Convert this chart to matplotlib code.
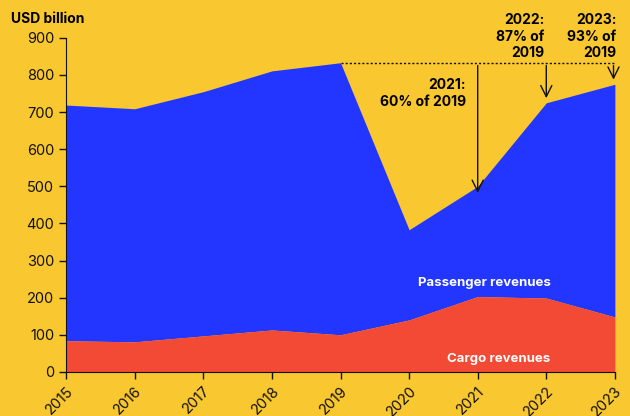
import matplotlib.pyplot as plt
import numpy as np

years = [2015, 2016, 2017, 2018, 2019, 2020, 2021, 2022, 2023]
total = [719, 709, 755, 811, 833, 383, 500, 725, 775]
cargo = [84, 81, 97, 113, 100, 140, 203, 199, 148]
notes = {2021: "2021:\n60% of 2019", 2022: "2022:\n87% of\n2019", 2023: "2023:\n93% of\n2019"}

bg = "#F9C72F"
blue = "#2236FF"
red = "#F24A35"

plt.rcParams['font.family'] = ['Inter', 'DejaVu Sans']

fig = plt.figure(figsize=(6.3, 4.16), dpi=100, facecolor=bg)
ax = fig.add_axes([0.105, 0.106, 0.871, 0.803])
ax.set_facecolor(bg)

ax.fill_between(years, cargo, total, color=blue, lw=0)
ax.fill_between(years, 0, cargo, color=red, lw=0)

ax.set_xlim(2015, 2023)
ax.set_ylim(0, 900)
ax.set_xticks(years)
ax.set_xticklabels([str(y) for y in years], rotation=45, ha='right', rotation_mode='anchor')
ax.set_yticks(np.arange(0, 901, 100))
ax.tick_params(labelsize=10.5, length=5, width=1, colors='#111111')
for s in ['top', 'right']:
    ax.spines[s].set_visible(False)
ax.spines['left'].set_color('#111111')
ax.spines['bottom'].set_color('#111111')

fig.text(0.018, 0.955, "USD billion", fontsize=10, fontweight='bold', ha='left', va='center')

base = total[4]
ax.plot([2019, 2023], [base, base], ls=(0, (1.5, 1.5)), color='#111111', lw=1)
for yr in notes:
    v = total[years.index(yr)]
    x = yr - 0.02 if yr == 2023 else yr
    ax.annotate("", xy=(x, v - 25 if yr == 2021 else v + 5), xytext=(x, base),
                arrowprops=dict(arrowstyle='->', color='#111111', lw=1, mutation_scale=20))
kw = dict(fontsize=10, fontweight='bold', ha='right', va='center', linespacing=1.25, clip_on=False)
ax.text(2020.83, 750, notes[2021], **kw)
ax.text(2021.97, 903, notes[2022], **kw)
ax.text(2023.02, 903, notes[2023], **kw)

ax.text(2021.1, 240, "Passenger revenues", color='white', fontsize=9.5, fontweight='bold', ha='center', va='center')
ax.text(2021.3, 36, "Cargo revenues", color='white', fontsize=9.5, fontweight='bold', ha='center', va='center')

fig.savefig("out.png", dpi=100, facecolor=bg)
